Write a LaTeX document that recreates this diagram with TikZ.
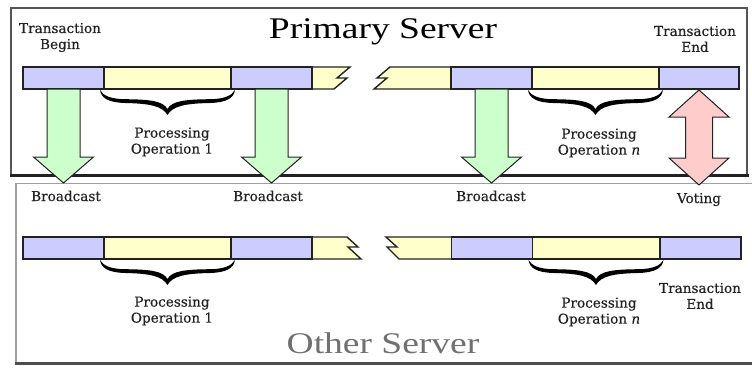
\documentclass[tikz,border=0pt]{standalone}
\usepackage{fontspec}
\setmainfont{DejaVu Serif}
\newfontfamily\labelfont[FakeBold=0.4]{DejaVu Serif}
\newfontfamily\titlefont[FakeStretch=1.25]{Liberation Serif}
\usetikzlibrary{calc}

\definecolor{segblue}{HTML}{CCCCFF}
\definecolor{segyellow}{HTML}{FFFFCC}
\definecolor{arrowgreen}{HTML}{CCFFCC}
\definecolor{arrowpink}{HTML}{FFCCCC}
\definecolor{edge}{HTML}{222222}
\definecolor{frameline}{HTML}{555555}
\definecolor{lightframe}{HTML}{A0A0A0}
\definecolor{othertitle}{HTML}{707070}

\begin{document}
\begin{tikzpicture}[x=1pt,y=-1pt,
  seg/.style={draw=edge, line width=1.4pt, minimum height=22pt, inner sep=0pt, outer sep=0pt},
  bluebox/.style={seg, fill=segblue, minimum width=81pt},
  yellowbox/.style={seg, fill=segyellow, minimum width=127pt},
  piece/.style={draw=edge, line width=1.4pt, fill=segyellow, line join=miter},
  lbl/.style={font=\labelfont\fontsize{13.6}{16}\selectfont, align=center, inner sep=0pt, text=edge},
  arrowline/.style={draw=edge, line width=1pt, line join=miter},
  % block arrow from a bar down into the other server
  bcast/.pic={\draw[arrowline, fill=arrowgreen]
      (-16.5,0) -- (-16.5,68) -- (-30,68) -- (0,94) -- (30,68) -- (16.5,68) -- (16.5,0) -- cycle;},
  % double-headed block arrow for the voting step
  vote/.pic={\draw[arrowline, fill=arrowpink]
      (0,0) -- (30,27) -- (13.5,27) -- (13.5,68) -- (30,68) -- (0,95) -- (-30,68)
      -- (-13.5,68) -- (-13.5,27) -- (-30,27) -- cycle;},
  % tapered curly brace, 130 wide and 25 deep
  curly/.pic={\fill[black]
      (0,0) .. controls (1,8) and (8,12.5) .. (24,13)
      .. controls (48,13.5) and (60,16) .. (65,25)
      .. controls (70,16) and (82,13.5) .. (106,13)
      .. controls (122,12.5) and (129,8) .. (130,0)
      .. controls (127,5.5) and (120,9) .. (106,9.2)
      .. controls (82,9.4) and (69,11) .. (65,19)
      .. controls (61,11) and (48,9.4) .. (24,9.2)
      .. controls (10,9) and (3,5.5) .. (0,0) -- cycle;}
]
\useasboundingbox (0,0) rectangle (752,367);
\clip (0,0) rectangle (752,367);
\fill[white] (0,0) rectangle (752,367);

% ---- server frames ----
\draw[draw=frameline, line width=1.5pt, fill=white] (11,8) rectangle (747,175);
\draw[edge, line width=3pt] (10.25,175.5) -- (748.5,175.5);
\draw[lightframe, line width=1pt] (16,183) -- (760,183);
\draw[lightframe, line width=1.5pt] (16,183) -- (16,362);
\draw[edge!80, line width=3pt] (15.25,363.5) -- (760,363.5);

\node[font=\titlefont\fontsize{30}{30}\selectfont, anchor=base, text=black, inner sep=0pt]
  (primary) at (383,38) {Primary Server};
\node[font=\titlefont\fontsize{30}{30}\selectfont, anchor=base, text=othertitle, inner sep=0pt]
  (other) at (383,353) {Other Server};

% ---- primary server timeline ----
\node[yellowbox] (py1) at (167.5,78) {};
\draw[piece] (312,67) -- (350,67) -- (337,78) -- (347,78) -- (334,89) -- (312,89) -- cycle;
\draw[piece] (390,67) -- (451,67) -- (451,89) -- (374,89) -- (387,78) -- (377,78) -- cycle;
\node[yellowbox] (pyn) at (595.5,78) {};
\node[bluebox] (p1) at (63.5,78) {};
\node[bluebox] (p2) at (271.5,78) {};
\node[bluebox] (p3) at (491.5,78) {};
\node[bluebox, minimum width=80pt] (p4) at (699,78) {};

% ---- other server timeline ----
\node[yellowbox] (oy1) at (167.5,248) {};
\draw[piece] (312,237) -- (347,237) -- (358,247) -- (348,247) -- (361,259) -- (312,259) -- cycle;
\draw[piece] (386,237) -- (452,237) -- (452,259) -- (399,259) -- (387,247) -- (397,247) -- cycle;
\node[yellowbox] (oyn) at (596,248) {};
\node[bluebox] (o1) at (63.5,248) {};
\node[bluebox] (o2) at (271.5,248) {};
\node[bluebox] (o3) at (492,248) {};
\node[bluebox] (o4) at (700.5,248) {};

% ---- braces under processing steps ----
\pic[xscale=1.038] at ($(py1.south west)+(-4,1)$) {curly};
\pic[xscale=1.038] at ($(pyn.south west)+(-4,1)$) {curly};
\pic[xscale=1.038] at ($(oy1.south west)+(-4,1)$) {curly};
\pic[xscale=1.038] at ($(oyn.south west)+(-4,1)$) {curly};

% ---- arrows between the servers ----
\pic at (p1.south) {bcast};
\pic at (p2.south) {bcast};
\pic at (p3.south) {bcast};
\pic at ($(p4.south)+(0,1)$) {vote};

% ---- labels ----
\node[lbl] (tbegin) at (60,37.5) {Transaction\\Begin};
\node[lbl] (tend) at (695,39) {Transaction\\End};
\node[lbl] (proc1) at (172,142) {Processing\\Operation 1};
\node[lbl] (procn) at (599,143) {Processing\\Operation \textit{n}};
\node[lbl, anchor=base] (bc1) at (66,201) {Broadcast};
\node[lbl, anchor=base] (bc2) at (268,201) {Broadcast};
\node[lbl, anchor=base] (bc3) at (491,201) {Broadcast};
\node[lbl, anchor=base] (voting) at (699,203) {Voting};
\node[lbl] (oproc1) at (172,311) {Processing\\Operation 1};
\node[lbl] (oprocn) at (599,312) {Processing\\Operation \textit{n}};
\node[lbl] (otend) at (700,296) {Transaction\\End};
\end{tikzpicture}
\end{document}
